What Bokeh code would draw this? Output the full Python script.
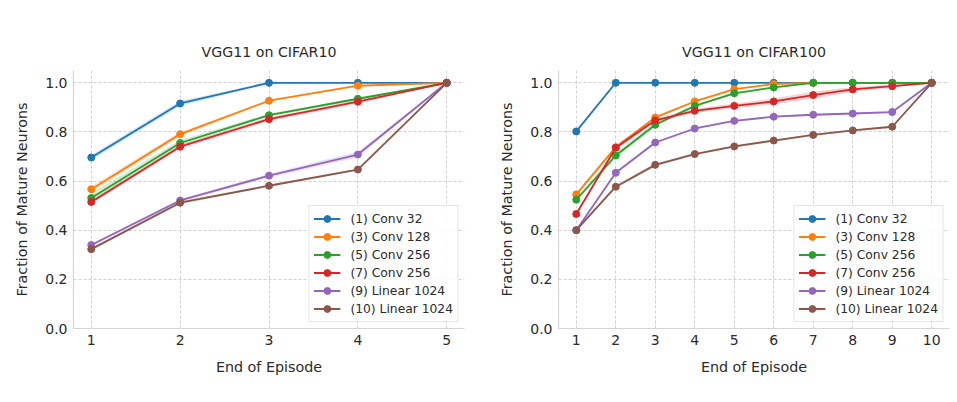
from bokeh.plotting import figure
from bokeh.layouts import row
from bokeh.models import FixedTicker, Legend, LegendItem, PrintfTickFormatter
from bokeh.embed import file_html
from bokeh.resources import INLINE

# ---------------- data ----------------
labels = ["(1) Conv 32", "(3) Conv 128", "(5) Conv 256", "(7) Conv 256",
          "(9) Linear 1024", "(10) Linear 1024"]
colors = ["#1f77b4", "#ff7f0e", "#2ca02c", "#d62728", "#9467bd", "#8c564b"]

titles = ["VGG11 on CIFAR10", "VGG11 on CIFAR100"]
x_label = "End of Episode"
y_label = "Fraction of Mature Neurons"
y_ticks = [0.0, 0.2, 0.4, 0.6, 0.8, 1.0]

episodes10 = [1, 2, 3, 4, 5]
conv32_c10 = [0.696, 0.916, 1.0, 1.0, 1.0]
conv128_c10 = [0.567, 0.791, 0.927, 0.988, 1.0]
conv256a_c10 = [0.531, 0.755, 0.868, 0.935, 1.0]
conv256b_c10 = [0.515, 0.740, 0.852, 0.923, 1.0]
lin1024a_c10 = [0.340, 0.521, 0.622, 0.708, 1.0]
lin1024b_c10 = [0.323, 0.512, 0.581, 0.647, 1.0]
# half-width of the shaded band
conv32_c10_sd = [0.010, 0.010, 0.003, 0.0, 0.0]
conv128_c10_sd = [0.012, 0.010, 0.004, 0.003, 0.0]
conv256a_c10_sd = [0.020, 0.012, 0.006, 0.004, 0.0]
conv256b_c10_sd = [0.008, 0.008, 0.008, 0.008, 0.0]
lin1024a_c10_sd = [0.006, 0.006, 0.008, 0.012, 0.0]
lin1024b_c10_sd = [0.006, 0.006, 0.004, 0.004, 0.0]

episodes100 = [1, 2, 3, 4, 5, 6, 7, 8, 9, 10]
conv32_c100 = [0.802, 1.0, 1.0, 1.0, 1.0, 1.0, 1.0, 1.0, 1.0, 1.0]
conv128_c100 = [0.546, 0.738, 0.859, 0.924, 0.974, 0.995, 1.0, 1.0, 1.0, 1.0]
conv256a_c100 = [0.524, 0.704, 0.829, 0.906, 0.957, 0.981, 1.0, 1.0, 1.0, 1.0]
conv256b_c100 = [0.466, 0.736, 0.847, 0.886, 0.906, 0.924, 0.950, 0.973, 0.986, 1.0]
lin1024a_c100 = [0.400, 0.634, 0.757, 0.814, 0.845, 0.862, 0.870, 0.875, 0.881, 1.0]
lin1024b_c100 = [0.400, 0.577, 0.666, 0.710, 0.741, 0.765, 0.788, 0.806, 0.821, 1.0]
conv32_c100_sd = [0.004, 0.0, 0.0, 0.0, 0.0, 0.0, 0.0, 0.0, 0.0, 0.0]
conv128_c100_sd = [0.006, 0.008, 0.006, 0.004, 0.003, 0.002, 0.0, 0.0, 0.0, 0.0]
conv256a_c100_sd = [0.006, 0.012, 0.008, 0.005, 0.004, 0.003, 0.0, 0.0, 0.0, 0.0]
conv256b_c100_sd = [0.006, 0.010, 0.008, 0.008, 0.010, 0.012, 0.015, 0.010, 0.006, 0.0]
lin1024a_c100_sd = [0.004, 0.006, 0.005, 0.004, 0.004, 0.004, 0.004, 0.004, 0.004, 0.0]
lin1024b_c100_sd = [0.004, 0.006, 0.008, 0.004, 0.004, 0.004, 0.004, 0.004, 0.004, 0.0]

series10 = [conv32_c10, conv128_c10, conv256a_c10, conv256b_c10, lin1024a_c10, lin1024b_c10]
bands10 = [conv32_c10_sd, conv128_c10_sd, conv256a_c10_sd, conv256b_c10_sd, lin1024a_c10_sd, lin1024b_c10_sd]
series100 = [conv32_c100, conv128_c100, conv256a_c100, conv256b_c100, lin1024a_c100, lin1024b_c100]
bands100 = [conv32_c100_sd, conv128_c100_sd, conv256a_c100_sd, conv256b_c100_sd, lin1024a_c100_sd, lin1024b_c100_sd]

FONT = "DejaVu Sans"
TEXT = "#2b2b2b"
GRID = "#cccccc"
SPINE = "#d5d5d5"


def make_panel(title, xs, series, bands, width, border_left, border_right):
    pad = (xs[-1] - xs[0]) * 0.05
    p = figure(width=width, height=386, output_backend="svg", toolbar_location=None,
               x_range=(xs[0] - pad, xs[-1] + pad), y_range=(0, 1.05),
               min_border_left=border_left, min_border_right=border_right,
               min_border_top=70, min_border_bottom=58)
    p.title.text = title
    p.title.align = "center"
    p.title.text_font = FONT
    p.title.text_font_size = "14.2px"
    p.title.text_font_style = "normal"
    p.title.text_color = TEXT
    p.title.offset = 0
    p.title.standoff = 21
    p.outline_line_color = None
    p.background_fill_color = "white"
    p.border_fill_color = "white"

    items = []
    for ys, sd, col, lab in zip(series, bands, colors, labels):
        lo = [y - s for y, s in zip(ys, sd)]
        hi = [y + s for y, s in zip(ys, sd)]
        p.varea(x=xs, y1=lo, y2=hi, fill_color=col, fill_alpha=0.2)
        r1 = p.line(xs, ys, line_color=col, line_width=1.8)
        r2 = p.scatter(xs, ys, size=7, fill_color=col, line_color=col)
        items.append(LegendItem(label=lab, renderers=[r1, r2]))

    legend = Legend(items=items, location="bottom_right")
    legend.margin = 6
    legend.padding = 4
    legend.spacing = 1
    legend.glyph_width = 27
    legend.glyph_height = 17
    legend.label_height = 17
    legend.label_standoff = 10
    legend.label_text_font = FONT
    legend.label_text_font_size = "12.3px"
    legend.label_text_color = TEXT
    legend.border_line_color = "#cccccc"
    legend.border_line_width = 1
    legend.background_fill_alpha = 0.85
    p.add_layout(legend)

    p.xaxis.ticker = FixedTicker(ticks=xs)
    p.yaxis.ticker = FixedTicker(ticks=y_ticks)
    p.yaxis.formatter = PrintfTickFormatter(format="%.1f")
    p.xaxis.axis_label = x_label
    p.yaxis.axis_label = y_label
    for ax in (p.xaxis, p.yaxis):
        ax.axis_label_text_font = FONT
        ax.axis_label_text_font_size = "14.3px"
        ax.axis_label_text_font_style = "normal"
        ax.axis_label_text_color = TEXT
        ax.major_label_text_font = FONT
        ax.major_label_text_font_size = "14px"
        ax.major_label_text_color = TEXT
        ax.major_tick_out = 0
        ax.major_tick_in = 0
        ax.minor_tick_out = 0
        ax.minor_tick_in = 0
        ax.major_tick_line_color = None
        ax.minor_tick_line_color = None
        ax.axis_line_color = SPINE
        ax.axis_line_width = 1.2
    p.yaxis.major_label_standoff = 6
    p.xaxis.major_label_standoff = 6
    p.yaxis.axis_label_standoff = 12
    p.xaxis.axis_label_standoff = 11

    for g in (p.xgrid, p.ygrid):
        g.grid_line_color = GRID
        g.grid_line_dash = "3 2"
        g.grid_line_width = 0.9
    return p


p1 = make_panel(titles[0], episodes10, series10, bands10, 478, 73, 14)
p2 = make_panel(titles[1], episodes100, series100, bands100, 479, 80, 8)
layout = row(p1, p2)

open("out.html", "w").write(file_html(layout, INLINE))
